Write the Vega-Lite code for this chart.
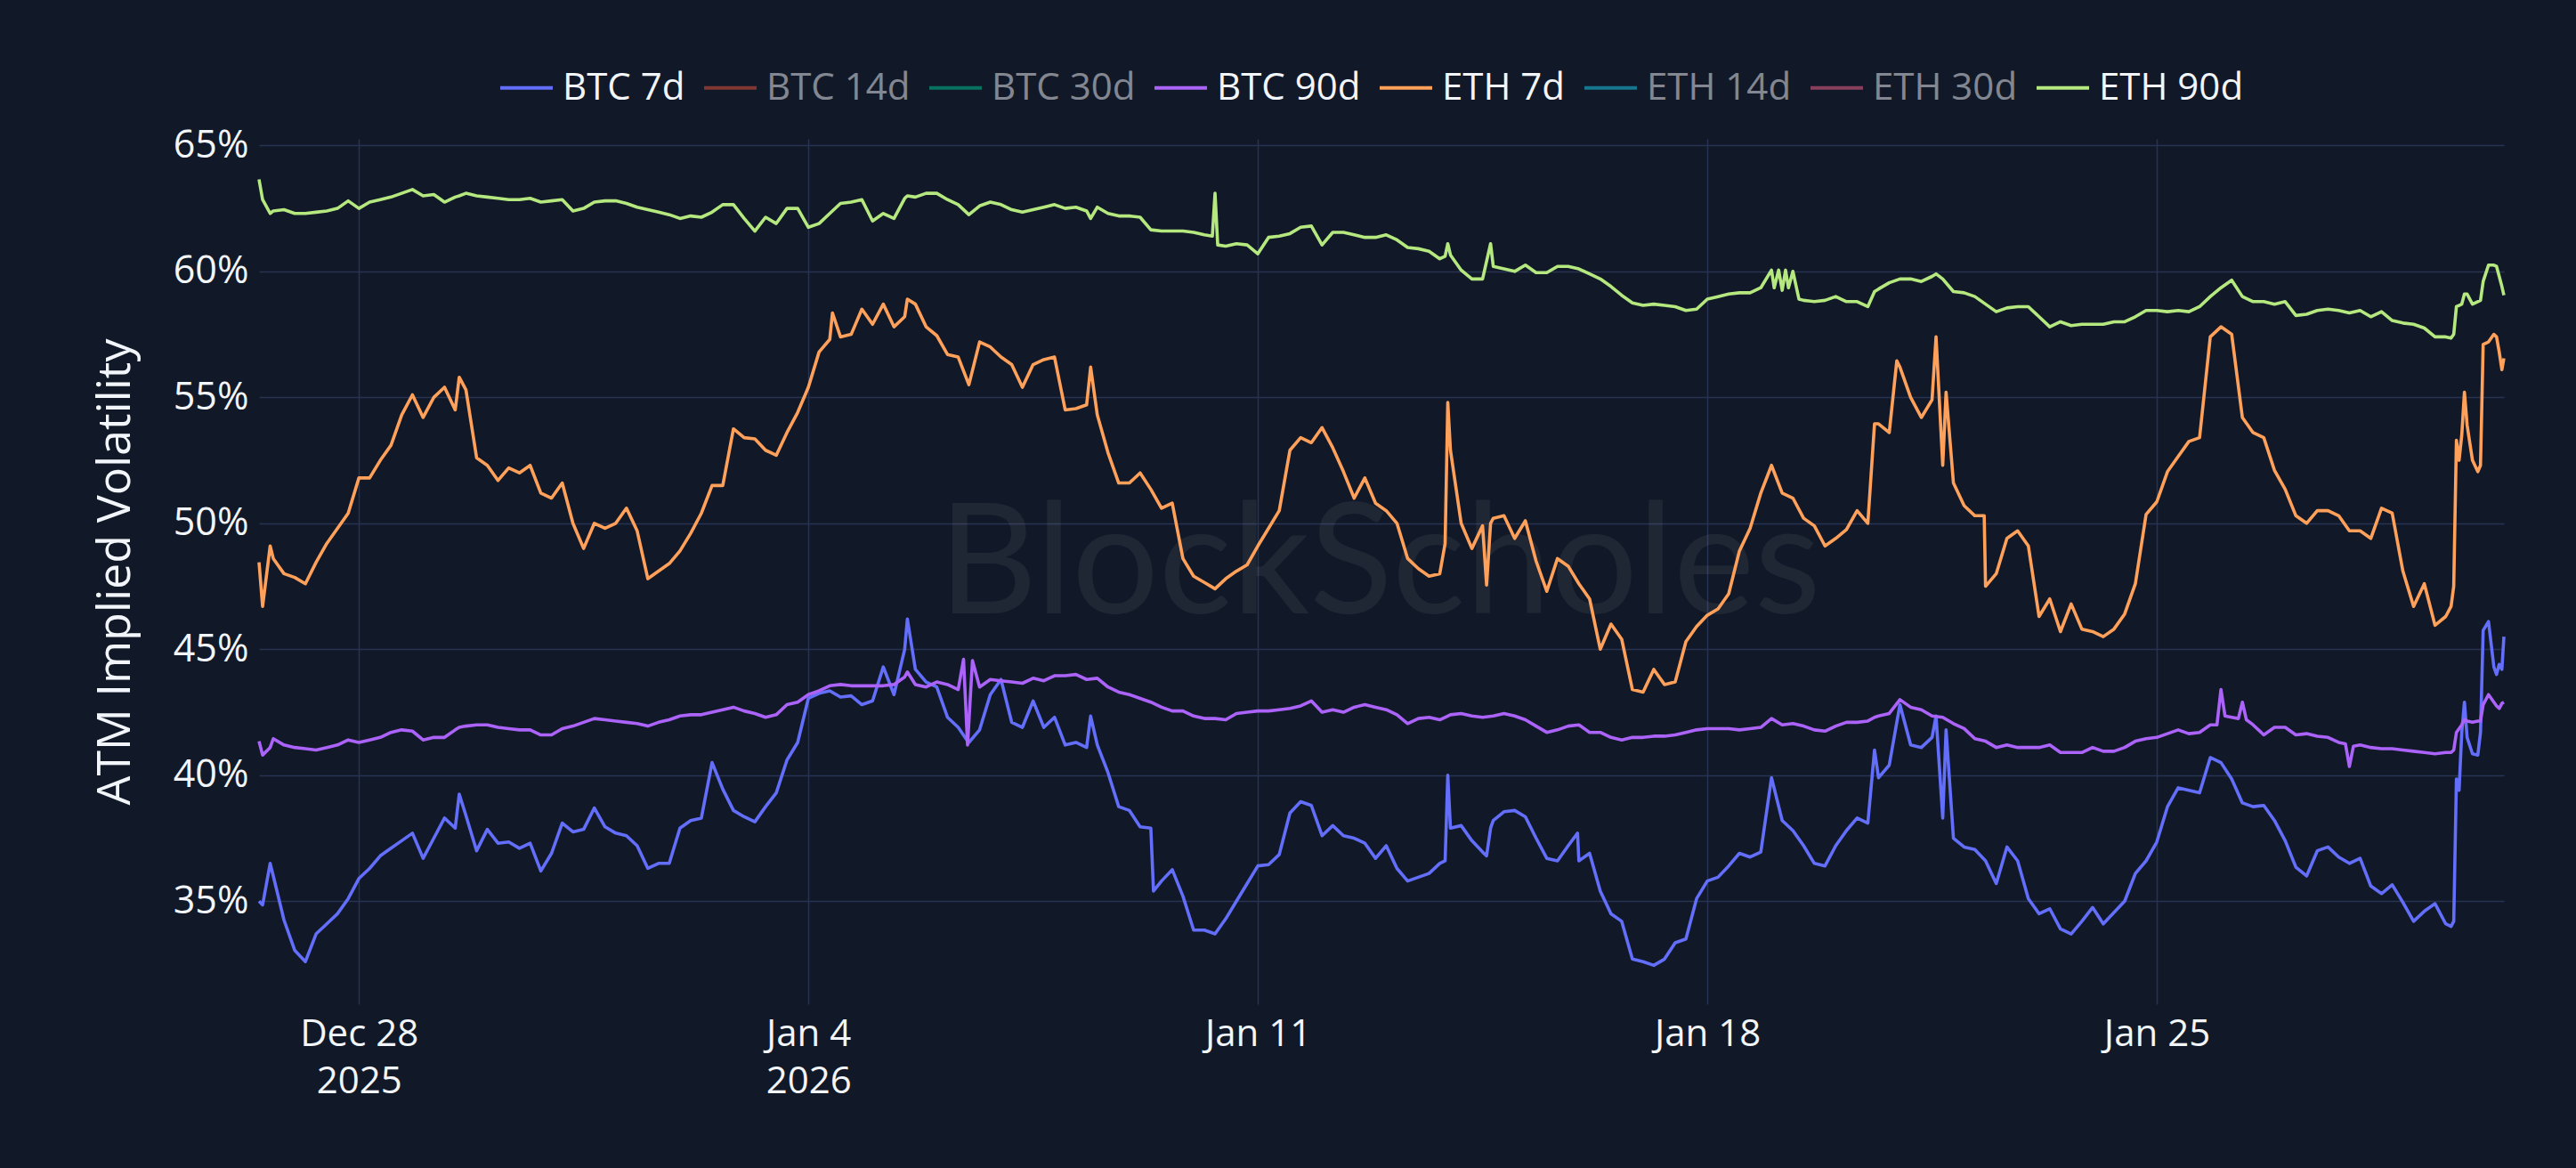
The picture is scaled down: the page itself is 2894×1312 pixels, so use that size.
{
  "$schema": "https://vega.github.io/schema/vega-lite/v6.json",
  "width": 2522,
  "height": 972,
  "autosize": {"type": "none"},
  "padding": {"left": 291, "top": 156, "right": 81, "bottom": 184},
  "background": "#111827",
  "config": {
    "view": {"stroke": null},
    "font": "Open Sans",
    "axis": {
      "labelFont": "Open Sans",
      "titleFont": "Open Sans",
      "labelColor": "#f2f5fa",
      "titleColor": "#f2f5fa",
      "gridColor": "#283353",
      "gridWidth": 1.5,
      "domain": false,
      "ticks": false
    }
  },
  "resolve": {"axis": {"x": "independent", "y": "independent"}},
  "layer": [
    {
      "data": {"values": [{}]},
      "mark": {"type": "text", "text": "BlockScholes", "font": "Lato", "fontSize": 172, "color": "#ffffff", "opacity": 0.06},
      "encoding": {
        "x": {"datum": {"year": 2026, "month": 1, "date": 12, "hours": 21, "minutes": 30}, "type": "temporal",
              "scale": {"domain": [{"year": 2025, "month": 12, "date": 26, "hours": 10, "minutes": 40}, {"year": 2026, "month": 1, "date": 30, "hours": 9, "minutes": 45}]},
              "axis": null},
        "y": {"datum": 48.25, "type": "quantitative", "scale": {"domain": [30.91, 65.26], "nice": false, "zero": false}, "axis": null}
      }
    },
    {
      "data": {"values": [
        {"t":"2025-12-26T10:40","b7":35.0,"b90":41.35,"e7":48.45,"e90":63.65},
        {"t":"2025-12-26T12:00","b7":34.85,"b90":40.8,"e7":46.7,"e90":62.85},
        {"t":"2025-12-26T14:50","b7":36.5,"b90":41.1,"e7":49.1,"e90":62.3},
        {"t":"2025-12-26T16:00","b7":36.0,"b90":41.45,"e7":48.6,"e90":62.4},
        {"t":"2025-12-26T20:00","b7":34.25,"b90":41.2,"e7":48.0,"e90":62.45},
        {"t":"2025-12-27T00:00","b7":33.05,"b90":41.1,"e7":47.85,"e90":62.3},
        {"t":"2025-12-27T04:00","b7":32.6,"b90":41.05,"e7":47.6,"e90":62.3},
        {"t":"2025-12-27T08:00","b7":33.7,"b90":41.0,"e7":48.45,"e90":62.35},
        {"t":"2025-12-27T12:00","b7":34.1,"b90":41.1,"e7":49.2,"e90":62.4},
        {"t":"2025-12-27T16:00","b7":34.5,"b90":41.2,"e7":49.8,"e90":62.5},
        {"t":"2025-12-27T20:00","b7":35.1,"b90":41.4,"e7":50.4,"e90":62.8},
        {"t":"2025-12-28T00:00","b7":35.9,"b90":41.3,"e7":51.8,"e90":62.5},
        {"t":"2025-12-28T04:00","b7":36.3,"b90":41.4,"e7":51.8,"e90":62.75},
        {"t":"2025-12-28T08:00","b7":36.8,"b90":41.5,"e7":52.5,"e90":62.85},
        {"t":"2025-12-28T12:00","b7":37.1,"b90":41.7,"e7":53.1,"e90":62.95},
        {"t":"2025-12-28T16:00","b7":37.4,"b90":41.8,"e7":54.3,"e90":63.1},
        {"t":"2025-12-28T20:00","b7":37.7,"b90":41.75,"e7":55.1,"e90":63.25},
        {"t":"2025-12-29T00:00","b7":36.7,"b90":41.4,"e7":54.2,"e90":63.0},
        {"t":"2025-12-29T04:00","b7":37.5,"b90":41.5,"e7":55.0,"e90":63.05},
        {"t":"2025-12-29T08:00","b7":38.3,"b90":41.5,"e7":55.4,"e90":62.75},
        {"t":"2025-12-29T12:00","b7":37.9,"b90":41.8,"e7":54.5,"e90":62.95},
        {"t":"2025-12-29T13:30","b7":39.25,"b90":41.9,"e7":55.8,"e90":63.0},
        {"t":"2025-12-29T16:00","b7":38.4,"b90":41.95,"e7":55.3,"e90":63.1},
        {"t":"2025-12-29T20:00","b7":37.0,"b90":42.0,"e7":52.6,"e90":63.0},
        {"t":"2025-12-30T00:00","b7":37.85,"b90":42.0,"e7":52.3,"e90":62.95},
        {"t":"2025-12-30T04:00","b7":37.3,"b90":41.9,"e7":51.7,"e90":62.9},
        {"t":"2025-12-30T08:00","b7":37.35,"b90":41.85,"e7":52.2,"e90":62.85},
        {"t":"2025-12-30T12:00","b7":37.1,"b90":41.8,"e7":52.0,"e90":62.85},
        {"t":"2025-12-30T16:00","b7":37.3,"b90":41.8,"e7":52.3,"e90":62.9},
        {"t":"2025-12-30T20:00","b7":36.2,"b90":41.6,"e7":51.2,"e90":62.75},
        {"t":"2025-12-31T00:00","b7":36.9,"b90":41.6,"e7":51.0,"e90":62.8},
        {"t":"2025-12-31T04:00","b7":38.1,"b90":41.85,"e7":51.6,"e90":62.85},
        {"t":"2025-12-31T08:00","b7":37.75,"b90":41.95,"e7":50.0,"e90":62.4},
        {"t":"2025-12-31T12:00","b7":37.85,"b90":42.1,"e7":49.0,"e90":62.5},
        {"t":"2025-12-31T16:00","b7":38.7,"b90":42.25,"e7":50.0,"e90":62.75},
        {"t":"2025-12-31T20:00","b7":37.95,"b90":42.2,"e7":49.8,"e90":62.8},
        {"t":"2026-01-01T00:00","b7":37.7,"b90":42.15,"e7":50.0,"e90":62.8},
        {"t":"2026-01-01T04:00","b7":37.6,"b90":42.1,"e7":50.6,"e90":62.7},
        {"t":"2026-01-01T08:00","b7":37.2,"b90":42.05,"e7":49.7,"e90":62.55},
        {"t":"2026-01-01T12:00","b7":36.3,"b90":41.95,"e7":47.8,"e90":62.45},
        {"t":"2026-01-01T16:00","b7":36.5,"b90":42.1,"e7":48.1,"e90":62.35},
        {"t":"2026-01-01T20:00","b7":36.5,"b90":42.2,"e7":48.4,"e90":62.25},
        {"t":"2026-01-02T00:00","b7":37.9,"b90":42.35,"e7":48.9,"e90":62.1},
        {"t":"2026-01-02T04:00","b7":38.2,"b90":42.4,"e7":49.6,"e90":62.2},
        {"t":"2026-01-02T08:00","b7":38.3,"b90":42.4,"e7":50.4,"e90":62.15},
        {"t":"2026-01-02T12:00","b7":40.5,"b90":42.5,"e7":51.5,"e90":62.35},
        {"t":"2026-01-02T16:00","b7":39.45,"b90":42.6,"e7":51.5,"e90":62.65},
        {"t":"2026-01-02T20:00","b7":38.6,"b90":42.7,"e7":53.75,"e90":62.65},
        {"t":"2026-01-03T00:00","b7":38.35,"b90":42.55,"e7":53.4,"e90":62.1},
        {"t":"2026-01-03T04:00","b7":38.15,"b90":42.45,"e7":53.35,"e90":61.6},
        {"t":"2026-01-03T08:00","b7":38.75,"b90":42.3,"e7":52.9,"e90":62.15},
        {"t":"2026-01-03T12:00","b7":39.3,"b90":42.4,"e7":52.7,"e90":61.9},
        {"t":"2026-01-03T16:00","b7":40.6,"b90":42.8,"e7":53.6,"e90":62.5},
        {"t":"2026-01-03T20:00","b7":41.3,"b90":42.9,"e7":54.4,"e90":62.5},
        {"t":"2026-01-04T00:00","b7":43.05,"b90":43.2,"e7":55.4,"e90":61.75},
        {"t":"2026-01-04T04:00","b7":43.25,"b90":43.35,"e7":56.8,"e90":61.9},
        {"t":"2026-01-04T08:00","b7":43.35,"b90":43.55,"e7":57.3,"e90":62.3},
        {"t":"2026-01-04T09:00","e7":58.35},
        {"t":"2026-01-04T12:00","b7":43.1,"b90":43.6,"e7":57.4,"e90":62.7},
        {"t":"2026-01-04T16:00","b7":43.15,"b90":43.55,"e7":57.5,"e90":62.75},
        {"t":"2026-01-04T20:00","b7":42.8,"b90":43.55,"e7":58.5,"e90":62.85},
        {"t":"2026-01-05T00:00","b7":42.95,"b90":43.55,"e7":57.9,"e90":62.0},
        {"t":"2026-01-05T04:00","b7":44.3,"b90":43.55,"e7":58.7,"e90":62.3},
        {"t":"2026-01-05T08:00","b7":43.2,"b90":43.6,"e7":57.8,"e90":62.1},
        {"t":"2026-01-05T12:00","b7":45.0,"b90":43.9,"e7":58.2,"e90":62.9},
        {"t":"2026-01-05T13:00","b7":46.2,"b90":44.1,"e7":58.9,"e90":63.0},
        {"t":"2026-01-05T16:00","b7":44.2,"b90":43.6,"e7":58.7,"e90":62.95},
        {"t":"2026-01-05T20:00","b7":43.7,"b90":43.5,"e7":57.8,"e90":63.1},
        {"t":"2026-01-06T00:00","b7":43.5,"b90":43.7,"e7":57.45,"e90":63.1},
        {"t":"2026-01-06T04:00","b7":42.3,"b90":43.6,"e7":56.7,"e90":62.85},
        {"t":"2026-01-06T08:00","b7":41.9,"b90":43.4,"e7":56.6,"e90":62.65},
        {"t":"2026-01-06T10:00","b90":44.6},
        {"t":"2026-01-06T11:30","b7":41.35,"b90":41.2},
        {"t":"2026-01-06T12:00","b7":41.3,"e7":55.5,"e90":62.25},
        {"t":"2026-01-06T13:20","b90":44.55},
        {"t":"2026-01-06T16:00","b7":41.8,"b90":43.5,"e7":57.2,"e90":62.6},
        {"t":"2026-01-06T20:00","b7":43.2,"b90":43.8,"e7":57.0,"e90":62.75},
        {"t":"2026-01-07T00:00","b7":43.8,"b90":43.75,"e7":56.6,"e90":62.65},
        {"t":"2026-01-07T04:00","b7":42.1,"b90":43.7,"e7":56.3,"e90":62.45},
        {"t":"2026-01-07T08:00","b7":41.9,"b90":43.65,"e7":55.4,"e90":62.35},
        {"t":"2026-01-07T12:00","b7":42.95,"b90":43.85,"e7":56.3,"e90":62.45},
        {"t":"2026-01-07T16:00","b7":41.9,"b90":43.75,"e7":56.5,"e90":62.55},
        {"t":"2026-01-07T20:00","b7":42.3,"b90":43.95,"e7":56.6,"e90":62.65},
        {"t":"2026-01-08T00:00","b7":41.2,"b90":43.95,"e7":54.5,"e90":62.5},
        {"t":"2026-01-08T04:00","b7":41.3,"b90":44.0,"e7":54.55,"e90":62.55},
        {"t":"2026-01-08T08:00","b7":41.1,"b90":43.8,"e7":54.7,"e90":62.4},
        {"t":"2026-01-08T09:30","b7":42.35,"e7":56.2,"e90":62.1},
        {"t":"2026-01-08T12:00","b7":41.2,"b90":43.85,"e7":54.3,"e90":62.55},
        {"t":"2026-01-08T16:00","b7":40.1,"b90":43.5,"e7":52.8,"e90":62.3},
        {"t":"2026-01-08T20:00","b7":38.75,"b90":43.3,"e7":51.6,"e90":62.2},
        {"t":"2026-01-09T00:00","b7":38.6,"b90":43.2,"e7":51.6,"e90":62.2},
        {"t":"2026-01-09T04:00","b7":37.95,"b90":43.05,"e7":52.0,"e90":62.15},
        {"t":"2026-01-09T08:00","b7":37.9,"b90":42.9,"e7":51.35,"e90":61.65},
        {"t":"2026-01-09T09:00","b7":35.4},
        {"t":"2026-01-09T12:00","b7":35.8,"b90":42.7,"e7":50.6,"e90":61.6},
        {"t":"2026-01-09T16:00","b7":36.25,"b90":42.55,"e7":50.8,"e90":61.6},
        {"t":"2026-01-09T20:00","b7":35.2,"b90":42.55,"e7":48.6,"e90":61.6},
        {"t":"2026-01-10T00:00","b7":33.85,"b90":42.35,"e7":47.9,"e90":61.55},
        {"t":"2026-01-10T04:00","b7":33.85,"b90":42.25,"e7":47.65,"e90":61.45},
        {"t":"2026-01-10T07:00","e90":61.4},
        {"t":"2026-01-10T08:00","b7":33.7,"b90":42.25,"e7":47.4,"e90":63.1},
        {"t":"2026-01-10T09:00","e90":61.05},
        {"t":"2026-01-10T12:00","b7":34.3,"b90":42.2,"e7":47.8,"e90":61.0},
        {"t":"2026-01-10T16:00","b7":35.0,"b90":42.45,"e7":48.1,"e90":61.1},
        {"t":"2026-01-10T20:00","b7":35.7,"b90":42.5,"e7":48.35,"e90":61.05},
        {"t":"2026-01-11T00:00","b7":36.4,"b90":42.55,"e7":49.1,"e90":60.7},
        {"t":"2026-01-11T04:00","b7":36.45,"b90":42.55,"e7":49.8,"e90":61.35},
        {"t":"2026-01-11T08:00","b7":36.85,"b90":42.6,"e7":50.5,"e90":61.4},
        {"t":"2026-01-11T12:00","b7":38.5,"b90":42.65,"e7":52.9,"e90":61.5},
        {"t":"2026-01-11T16:00","b7":38.95,"b90":42.75,"e7":53.4,"e90":61.75},
        {"t":"2026-01-11T20:00","b7":38.8,"b90":42.95,"e7":53.2,"e90":61.8},
        {"t":"2026-01-12T00:00","b7":37.6,"b90":42.5,"e7":53.8,"e90":61.05},
        {"t":"2026-01-12T04:00","b7":38.0,"b90":42.6,"e7":53.0,"e90":61.55},
        {"t":"2026-01-12T08:00","b7":37.6,"b90":42.5,"e7":52.05,"e90":61.55},
        {"t":"2026-01-12T12:00","b7":37.5,"b90":42.7,"e7":51.0,"e90":61.45},
        {"t":"2026-01-12T16:00","b7":37.3,"b90":42.8,"e7":51.8,"e90":61.35},
        {"t":"2026-01-12T20:00","b7":36.7,"b90":42.7,"e7":50.8,"e90":61.35},
        {"t":"2026-01-13T00:00","b7":37.2,"b90":42.6,"e7":50.5,"e90":61.45},
        {"t":"2026-01-13T04:00","b7":36.3,"b90":42.4,"e7":50.0,"e90":61.25},
        {"t":"2026-01-13T08:00","b7":35.8,"b90":42.05,"e7":48.6,"e90":60.95},
        {"t":"2026-01-13T12:00","b7":35.95,"b90":42.25,"e7":48.2,"e90":60.9},
        {"t":"2026-01-13T16:00","b7":36.1,"b90":42.3,"e7":47.9,"e90":60.8},
        {"t":"2026-01-13T20:00","b7":36.5,"b90":42.2,"e7":48.0,"e90":60.5},
        {"t":"2026-01-13T22:00","b7":36.6,"e7":49.2,"e90":60.6},
        {"t":"2026-01-13T23:00","b7":40.0,"b90":42.35,"e7":54.8,"e90":61.1},
        {"t":"2026-01-14T00:00","b7":37.9,"b90":42.4,"e7":52.9,"e90":60.65},
        {"t":"2026-01-14T04:00","b7":38.0,"b90":42.45,"e7":50.0,"e90":60.05},
        {"t":"2026-01-14T08:00","b7":37.4,"b90":42.35,"e7":49.0,"e90":59.7},
        {"t":"2026-01-14T12:00","b7":36.95,"b90":42.3,"e7":49.9,"e90":59.7},
        {"t":"2026-01-14T13:30","b7":36.8,"e7":47.55},
        {"t":"2026-01-14T15:00","b7":37.9,"e7":50.0,"e90":61.1},
        {"t":"2026-01-14T16:00","b7":38.2,"b90":42.35,"e7":50.2,"e90":60.2},
        {"t":"2026-01-14T20:00","b7":38.55,"b90":42.45,"e7":50.3,"e90":60.1},
        {"t":"2026-01-15T00:00","b7":38.6,"b90":42.35,"e7":49.4,"e90":60.0},
        {"t":"2026-01-15T04:00","b7":38.35,"b90":42.2,"e7":50.1,"e90":60.25},
        {"t":"2026-01-15T08:00","b7":37.5,"b90":41.95,"e7":48.5,"e90":59.95},
        {"t":"2026-01-15T12:00","b7":36.7,"b90":41.7,"e7":47.3,"e90":59.95},
        {"t":"2026-01-15T16:00","b7":36.6,"b90":41.8,"e7":48.6,"e90":60.2},
        {"t":"2026-01-15T20:00","b7":37.2,"b90":41.95,"e7":48.3,"e90":60.2},
        {"t":"2026-01-15T23:30","b7":37.7},
        {"t":"2026-01-16T00:00","b7":36.6,"b90":42.0,"e7":47.6,"e90":60.1},
        {"t":"2026-01-16T04:00","b7":36.9,"b90":41.7,"e7":47.0,"e90":59.9},
        {"t":"2026-01-16T08:00","b7":35.4,"b90":41.7,"e7":45.0,"e90":59.7},
        {"t":"2026-01-16T12:00","b7":34.5,"b90":41.5,"e7":46.0,"e90":59.4},
        {"t":"2026-01-16T16:00","b7":34.2,"b90":41.4,"e7":45.4,"e90":59.05},
        {"t":"2026-01-16T20:00","b7":32.7,"b90":41.5,"e7":43.4,"e90":58.75},
        {"t":"2026-01-17T00:00","b7":32.6,"b90":41.5,"e7":43.3,"e90":58.65},
        {"t":"2026-01-17T04:00","b7":32.45,"b90":41.55,"e7":44.2,"e90":58.7},
        {"t":"2026-01-17T08:00","b7":32.7,"b90":41.55,"e7":43.6,"e90":58.65},
        {"t":"2026-01-17T12:00","b7":33.35,"b90":41.6,"e7":43.7,"e90":58.6},
        {"t":"2026-01-17T16:00","b7":33.5,"b90":41.7,"e7":45.3,"e90":58.45},
        {"t":"2026-01-17T20:00","b7":35.1,"b90":41.8,"e7":45.9,"e90":58.5},
        {"t":"2026-01-18T00:00","b7":35.8,"b90":41.85,"e7":46.35,"e90":58.9},
        {"t":"2026-01-18T04:00","b7":35.95,"b90":41.85,"e7":46.6,"e90":59.0},
        {"t":"2026-01-18T08:00","b7":36.4,"b90":41.85,"e7":47.2,"e90":59.1},
        {"t":"2026-01-18T12:00","b7":36.9,"b90":41.8,"e7":48.9,"e90":59.15},
        {"t":"2026-01-18T16:00","b7":36.75,"b90":41.85,"e7":49.8,"e90":59.15},
        {"t":"2026-01-18T20:00","b7":36.95,"b90":41.9,"e7":51.2,"e90":59.35},
        {"t":"2026-01-19T00:00","b7":39.9,"b90":42.25,"e7":52.3,"e90":60.05},
        {"t":"2026-01-19T01:00","e90":59.35},
        {"t":"2026-01-19T02:40","e90":60.05},
        {"t":"2026-01-19T04:00","b7":38.2,"b90":42.0,"e7":51.2,"e90":59.25},
        {"t":"2026-01-19T05:15","e90":60.05},
        {"t":"2026-01-19T06:20","e90":59.35},
        {"t":"2026-01-19T08:00","b7":37.8,"b90":42.05,"e7":51.0,"e90":60.0},
        {"t":"2026-01-19T10:15","e90":58.9},
        {"t":"2026-01-19T12:00","b7":37.2,"b90":41.95,"e7":50.2,"e90":58.85},
        {"t":"2026-01-19T16:00","b7":36.5,"b90":41.8,"e7":49.9,"e90":58.8},
        {"t":"2026-01-19T20:00","b7":36.4,"b90":41.75,"e7":49.1,"e90":58.85},
        {"t":"2026-01-20T00:00","b7":37.2,"b90":41.95,"e7":49.4,"e90":59.0},
        {"t":"2026-01-20T04:00","b7":37.8,"b90":42.1,"e7":49.75,"e90":58.8},
        {"t":"2026-01-20T08:00","b7":38.3,"b90":42.1,"e7":50.5,"e90":58.8},
        {"t":"2026-01-20T12:00","b7":38.1,"b90":42.15,"e7":50.0,"e90":58.6},
        {"t":"2026-01-20T14:30","b7":41.0,"b90":42.3,"e7":53.95,"e90":59.2},
        {"t":"2026-01-20T16:00","b7":39.9,"b90":42.35,"e7":53.95,"e90":59.3},
        {"t":"2026-01-20T20:00","b7":40.4,"b90":42.45,"e7":53.6,"e90":59.55},
        {"t":"2026-01-20T22:50","e7":56.45},
        {"t":"2026-01-21T00:00","b7":42.8,"b90":43.0,"e7":56.2,"e90":59.7},
        {"t":"2026-01-21T04:00","b7":41.2,"b90":42.7,"e7":55.0,"e90":59.7},
        {"t":"2026-01-21T08:00","b7":41.1,"b90":42.6,"e7":54.2,"e90":59.6},
        {"t":"2026-01-21T12:00","b7":41.5,"b90":42.35,"e7":54.9,"e90":59.8},
        {"t":"2026-01-21T13:30","b7":42.35,"e7":57.4,"e90":59.9},
        {"t":"2026-01-21T16:00","b7":38.3,"b90":42.3,"e7":52.3,"e90":59.7},
        {"t":"2026-01-21T17:15","b7":41.8,"e7":55.2},
        {"t":"2026-01-21T20:00","b7":37.5,"b90":42.05,"e7":51.6,"e90":59.2},
        {"t":"2026-01-22T00:00","b7":37.15,"b90":41.85,"e7":50.7,"e90":59.15},
        {"t":"2026-01-22T04:00","b7":37.05,"b90":41.45,"e7":50.3,"e90":59.0},
        {"t":"2026-01-22T07:30","e7":50.3},
        {"t":"2026-01-22T08:00","b7":36.6,"b90":41.35,"e7":47.5,"e90":58.7},
        {"t":"2026-01-22T12:00","b7":35.7,"b90":41.1,"e7":48.0,"e90":58.4},
        {"t":"2026-01-22T16:00","b7":37.15,"b90":41.2,"e7":49.4,"e90":58.55},
        {"t":"2026-01-22T20:00","b7":36.6,"b90":41.1,"e7":49.7,"e90":58.6},
        {"t":"2026-01-23T00:00","b7":35.1,"b90":41.1,"e7":49.1,"e90":58.6},
        {"t":"2026-01-23T04:00","b7":34.5,"b90":41.1,"e7":46.3,"e90":58.2},
        {"t":"2026-01-23T08:00","b7":34.7,"b90":41.2,"e7":47.0,"e90":57.8},
        {"t":"2026-01-23T12:00","b7":33.9,"b90":40.9,"e7":45.7,"e90":58.0},
        {"t":"2026-01-23T16:00","b7":33.7,"b90":40.9,"e7":46.8,"e90":57.85},
        {"t":"2026-01-23T20:00","b7":34.2,"b90":40.9,"e7":45.8,"e90":57.9},
        {"t":"2026-01-24T00:00","b7":34.75,"b90":41.1,"e7":45.7,"e90":57.9},
        {"t":"2026-01-24T04:00","b7":34.1,"b90":40.95,"e7":45.5,"e90":57.9},
        {"t":"2026-01-24T08:00","b7":34.55,"b90":40.95,"e7":45.8,"e90":58.0},
        {"t":"2026-01-24T12:00","b7":35.0,"b90":41.1,"e7":46.4,"e90":58.0},
        {"t":"2026-01-24T16:00","b7":36.1,"b90":41.35,"e7":47.6,"e90":58.2},
        {"t":"2026-01-24T20:00","b7":36.6,"b90":41.45,"e7":50.35,"e90":58.45},
        {"t":"2026-01-25T00:00","b7":37.35,"b90":41.5,"e7":50.85,"e90":58.45},
        {"t":"2026-01-25T04:00","b7":38.75,"b90":41.65,"e7":52.05,"e90":58.4},
        {"t":"2026-01-25T08:00","b7":39.5,"b90":41.8,"e7":52.65,"e90":58.45},
        {"t":"2026-01-25T12:00","b7":39.4,"b90":41.65,"e7":53.25,"e90":58.4},
        {"t":"2026-01-25T16:00","b7":39.3,"b90":41.7,"e7":53.4,"e90":58.6},
        {"t":"2026-01-25T20:00","b7":40.7,"b90":42.0,"e7":57.4,"e90":59.0},
        {"t":"2026-01-25T22:30","b90":42.0},
        {"t":"2026-01-26T00:00","b7":40.5,"b90":43.4,"e7":57.8,"e90":59.35},
        {"t":"2026-01-26T01:30","b90":42.35},
        {"t":"2026-01-26T04:00","b7":39.85,"b90":42.3,"e7":57.5,"e90":59.65},
        {"t":"2026-01-26T06:30","b90":42.25},
        {"t":"2026-01-26T08:00","b7":38.9,"b90":42.9,"e7":54.2,"e90":59.0},
        {"t":"2026-01-26T09:30","b90":42.2},
        {"t":"2026-01-26T12:00","b7":38.75,"b90":42.0,"e7":53.6,"e90":58.8},
        {"t":"2026-01-26T16:00","b7":38.8,"b90":41.6,"e7":53.4,"e90":58.8},
        {"t":"2026-01-26T20:00","b7":38.2,"b90":41.9,"e7":52.1,"e90":58.7},
        {"t":"2026-01-27T00:00","b7":37.4,"b90":41.9,"e7":51.35,"e90":58.8},
        {"t":"2026-01-27T04:00","b7":36.35,"b90":41.6,"e7":50.3,"e90":58.25},
        {"t":"2026-01-27T08:00","b7":36.0,"b90":41.65,"e7":50.0,"e90":58.3},
        {"t":"2026-01-27T12:00","b7":37.0,"b90":41.55,"e7":50.5,"e90":58.45},
        {"t":"2026-01-27T16:00","b7":37.15,"b90":41.5,"e7":50.5,"e90":58.5},
        {"t":"2026-01-27T20:00","b7":36.75,"b90":41.3,"e7":50.3,"e90":58.45},
        {"t":"2026-01-27T22:30","b90":41.25},
        {"t":"2026-01-28T00:00","b7":36.5,"b90":40.35,"e7":49.7,"e90":58.35},
        {"t":"2026-01-28T01:30","b90":41.15},
        {"t":"2026-01-28T04:00","b7":36.7,"b90":41.2,"e7":49.7,"e90":58.45},
        {"t":"2026-01-28T08:00","b7":35.6,"b90":41.1,"e7":49.4,"e90":58.2},
        {"t":"2026-01-28T12:00","b7":35.3,"b90":41.05,"e7":50.6,"e90":58.4},
        {"t":"2026-01-28T16:00","b7":35.65,"b90":41.05,"e7":50.4,"e90":58.05},
        {"t":"2026-01-28T20:00","b7":34.95,"b90":41.0,"e7":48.1,"e90":57.95},
        {"t":"2026-01-29T00:00","b7":34.2,"b90":40.95,"e7":46.7,"e90":57.9},
        {"t":"2026-01-29T04:00","b7":34.6,"b90":40.9,"e7":47.6,"e90":57.75},
        {"t":"2026-01-29T08:00","b7":34.9,"b90":40.85,"e7":45.95,"e90":57.4},
        {"t":"2026-01-29T12:00","b7":34.1,"b90":40.9,"e7":46.3,"e90":57.4},
        {"t":"2026-01-29T14:00","b7":34.0,"b90":40.9,"e7":46.7,"e90":57.35},
        {"t":"2026-01-29T15:00","b7":34.2,"b90":41.0,"e7":47.5,"e90":57.5},
        {"t":"2026-01-29T16:00","b7":39.85,"b90":41.7,"e7":53.3,"e90":58.6},
        {"t":"2026-01-29T17:00","b7":39.4,"b90":41.85,"e7":52.5,"e90":58.65},
        {"t":"2026-01-29T18:00","b7":41.7,"b90":42.0,"e7":53.5,"e90":58.7},
        {"t":"2026-01-29T19:00","b7":42.9,"b90":42.2,"e7":55.2,"e90":59.1},
        {"t":"2026-01-29T20:00","b7":41.5,"b90":42.15,"e7":53.9,"e90":59.1},
        {"t":"2026-01-29T22:00","b7":40.85,"b90":42.1,"e7":52.5,"e90":58.7},
        {"t":"2026-01-30T00:00","b7":40.8,"b90":42.15,"e7":52.05,"e90":58.8},
        {"t":"2026-01-30T01:00","b7":41.7,"b90":42.15,"e7":52.3,"e90":58.85},
        {"t":"2026-01-30T02:00","b7":45.75,"b90":42.8,"e7":57.1,"e90":59.6},
        {"t":"2026-01-30T04:00","b7":46.1,"b90":43.2,"e7":57.2,"e90":60.25},
        {"t":"2026-01-30T06:00","b7":44.3,"b90":42.9,"e7":57.5,"e90":60.25},
        {"t":"2026-01-30T07:00","b7":44.0,"b90":42.75,"e7":57.4,"e90":60.2},
        {"t":"2026-01-30T08:00","b7":44.4,"b90":42.65,"e7":56.8,"e90":59.8},
        {"t":"2026-01-30T09:00","b7":44.2,"b90":42.85,"e7":56.1,"e90":59.4},
        {"t":"2026-01-30T09:45","b7":45.5,"b90":42.9,"e7":56.55,"e90":59.05}
      ]},
      "transform": [
        {"fold": ["b7", "b90", "e7", "e90"], "as": ["series", "iv"]},
        {"filter": "isValid(datum.iv)"}
      ],
      "mark": {"type": "line", "strokeWidth": 3.6, "strokeJoin": "round"},
      "encoding": {
        "x": {
          "field": "t",
          "type": "temporal",
          "scale": {"domain": [{"year": 2025, "month": 12, "date": 26, "hours": 10, "minutes": 40}, {"year": 2026, "month": 1, "date": 30, "hours": 9, "minutes": 45}]},
          "axis": {
            "orient": "bottom",
            "title": null,
            "grid": true,
            "values": [
              {"year": 2025, "month": 12, "date": 28},
              {"year": 2026, "month": 1, "date": 4},
              {"year": 2026, "month": 1, "date": 11},
              {"year": 2026, "month": 1, "date": 18},
              {"year": 2026, "month": 1, "date": 25}
            ],
            "labelExpr": "month(datum.value) == 11 ? [timeFormat(datum.value, '%b %-d'), '2025'] : (date(datum.value) == 4 ? [timeFormat(datum.value, '%b %-d'), '2026'] : timeFormat(datum.value, '%b %-d'))",
            "labelFontSize": 42,
            "labelPadding": 13,
            "labelLineHeight": 53,
            "labelOverlap": false,
            "labelFlush": false
          }
        },
        "y": {
          "field": "iv",
          "type": "quantitative",
          "scale": {"domain": [30.91, 65.26], "nice": false, "zero": false},
          "axis": {
            "orient": "left",
            "title": "ATM Implied Volatility",
            "titleFontSize": 52,
            "titleFontWeight": "normal",
            "titlePadding": 38,
            "values": [35, 40, 45, 50, 55, 60, 65],
            "labelExpr": "datum.value + '%'",
            "labelFontSize": 43,
            "labelPadding": 12,
            "grid": true
          }
        },
        "color": {
          "field": "series",
          "type": "nominal",
          "scale": {
            "domain": ["b7", "b14", "b30", "b90", "e7", "e14", "e30", "e90"],
            "range": ["#636efa", "#EF553B", "#00cc96", "#ab63fa", "#FFA15A", "#19d3f3", "#FF6692", "#B6E880"]
          },
          "legend": {
            "orient": "none",
            "legendX": 269,
            "legendY": -89,
            "direction": "horizontal",
            "columns": 8,
            "title": null,
            "padding": 0,
            "symbolType": "stroke",
            "symbolSize": 3481,
            "symbolStrokeWidth": 4,
            "labelFont": "Open Sans",
            "labelFontSize": 42,
            "labelColor": "#f2f5fa",
            "labelOffset": 9,
            "labelLimit": 400,
            "columnPadding": 13,
            "labelExpr": "(substring(datum.label, 0, 1) == 'b' ? 'BTC ' : 'ETH ') + substring(datum.label, 1) + 'd'",
            "encode": {
              "symbols": {"update": {"opacity": {"signal": "indexof(['b14', 'b30', 'e14', 'e30'], datum.value) >= 0 ? 0.5 : 1"}}},
              "labels": {"update": {"opacity": {"signal": "indexof(['b14', 'b30', 'e14', 'e30'], datum.value) >= 0 ? 0.5 : 1"}}}
            }
          }
        }
      }
    }
  ]
}
